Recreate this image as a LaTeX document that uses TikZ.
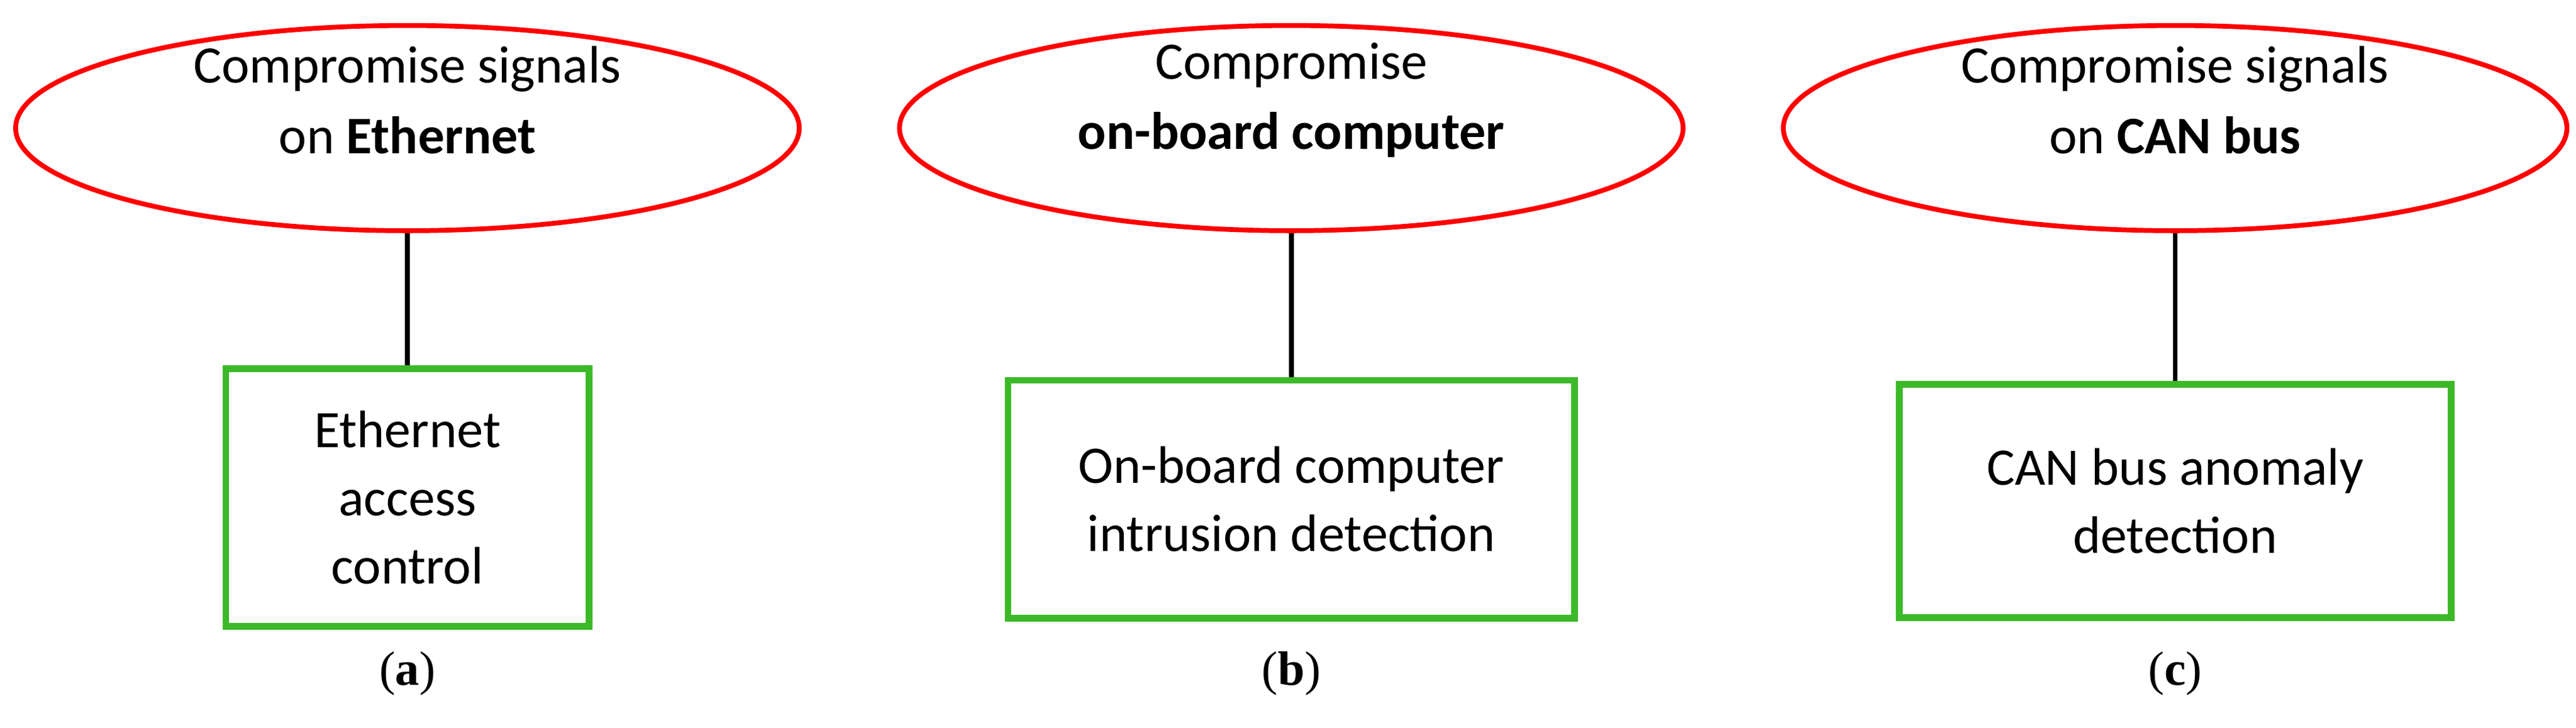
\documentclass[tikz,border=0pt]{standalone}
\usepackage{fontspec}
\setmainfont{Carlito}
\newfontfamily\capfont{Liberation Serif}
\usetikzlibrary{shapes.geometric}
\begin{document}
\begin{tikzpicture}[x=0.02626cm,y=-0.02626cm,
  goal/.style={ellipse,draw=red,line width=2.2pt,minimum width=477*0.02626cm,minimum height=125*0.02626cm,inner sep=0pt},
  goaltext/.style={align=center,font=\fontsize{24}{32}\selectfont,inner sep=0pt},
  ctrl/.style={rectangle,draw={rgb,255:red,60;green,185;blue,40},line width=3pt,align=center,font=\fontsize{24}{31}\selectfont},
  link/.style={line width=2.2pt},
  subcap/.style={font=\capfont\fontsize{22}{26}\selectfont}]
\useasboundingbox (0,0) rectangle (1568,443);
\node[goal] (ga) at (248,78) {};
\node[goal] (gb) at (786,78) {};
\node[goal] (gc) at (1324,78) {};
\node[goaltext] (ta) at (248,61) {Compromise signals\\on \textbf{Ethernet}};
\node[goaltext] (tb) at (786,61) {Compromise\\\textbf{on-board computer}};
\node[goaltext] (tc) at (1324,61) {Compromise signals\\on \textbf{CAN bus}};
\node[ctrl,minimum width=221*0.02626cm,minimum height=157*0.02626cm] (ca) at (248,303) {Ethernet\\access\\control};
\node[ctrl,minimum width=345*0.02626cm,minimum height=145*0.02626cm] (cb) at (786,304) {On-board computer\\intrusion detection};
\node[ctrl,minimum width=336*0.02626cm,minimum height=142*0.02626cm] (cc) at (1324,305) {CAN bus anomaly\\detection};
\draw[link] (ga) -- (ca);
\draw[link] (gb) -- (cb);
\draw[link] (gc) -- (cc);
\node[subcap] (la) at (248,410) {(\textbf{a})};
\node[subcap] (lb) at (786,410) {(\textbf{b})};
\node[subcap] (lc) at (1324,410) {(\textbf{c})};
\end{tikzpicture}
\end{document}
